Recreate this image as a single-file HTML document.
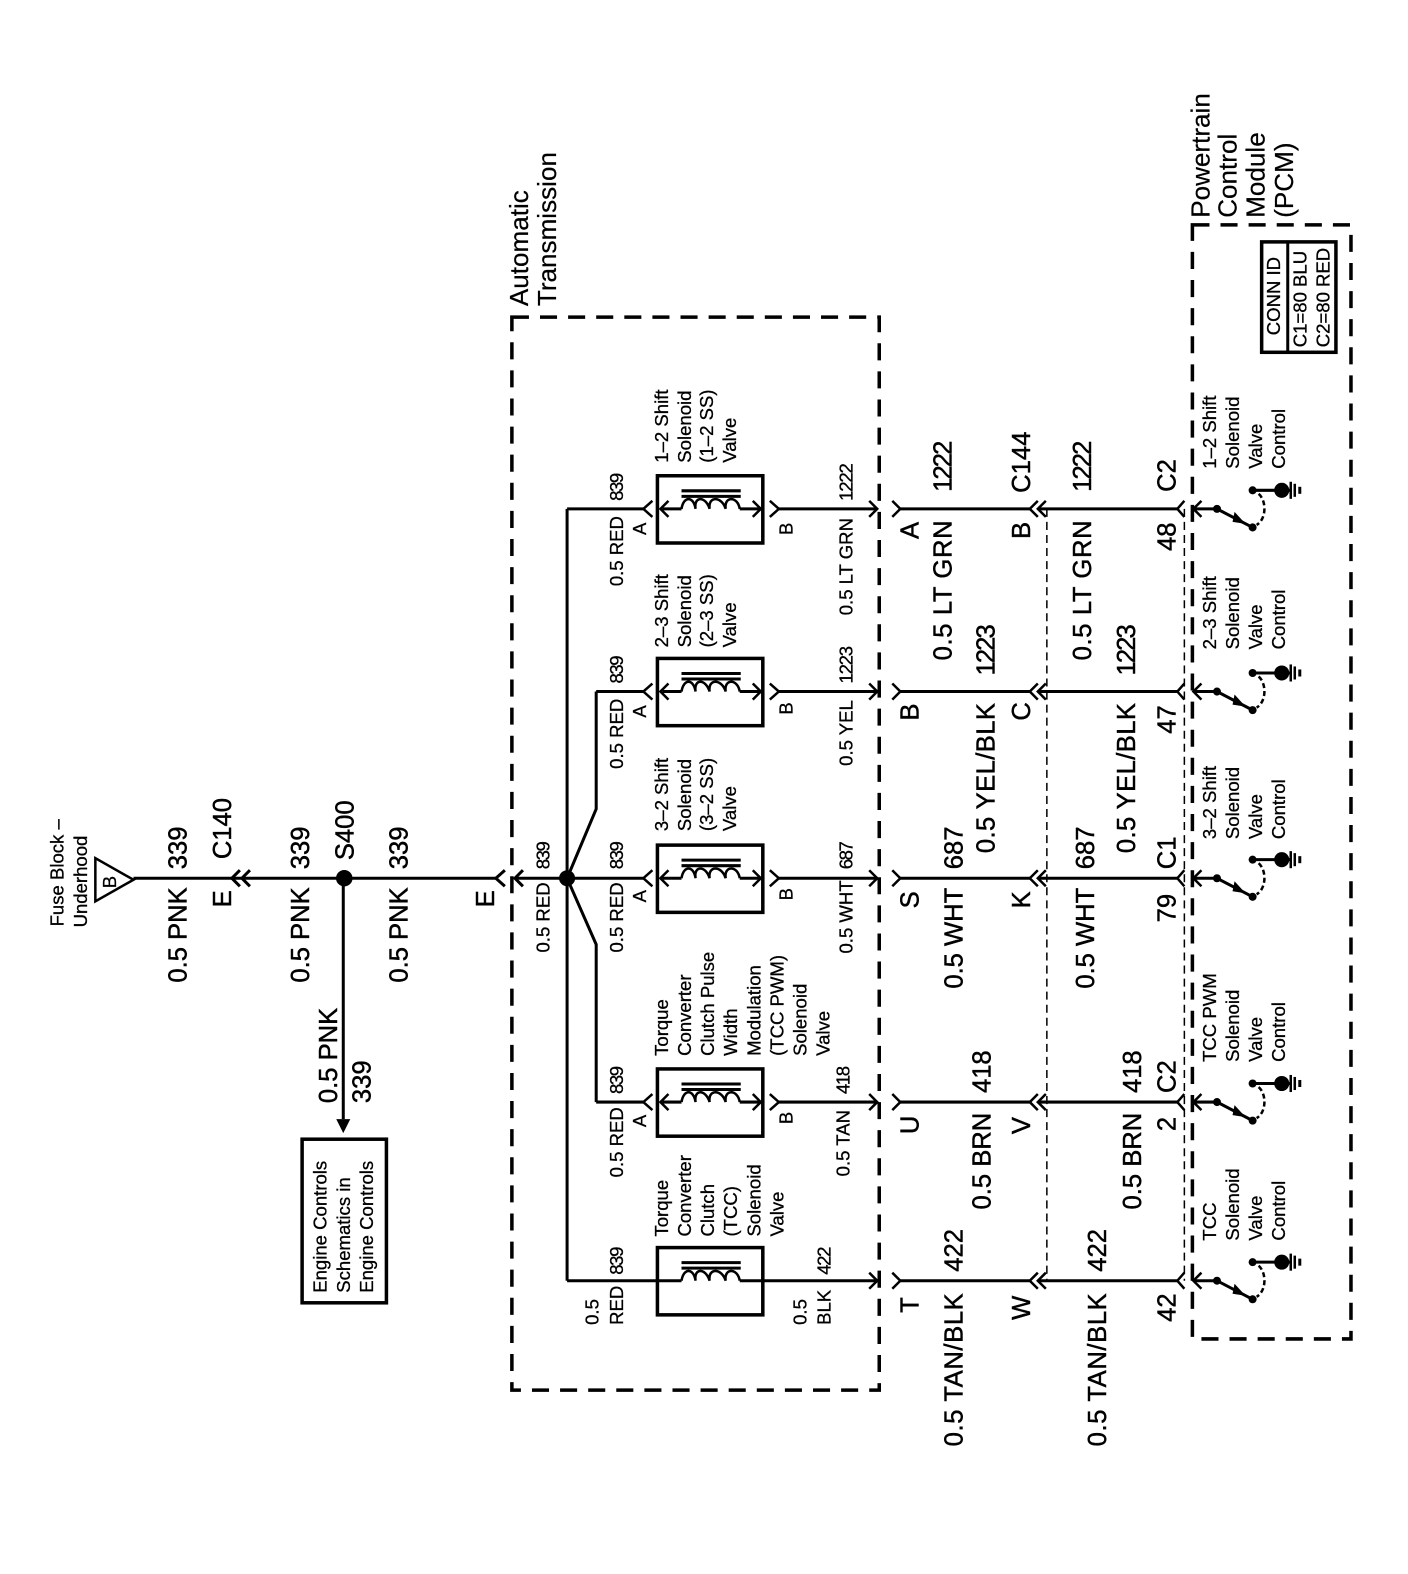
<!DOCTYPE html>
<html><head><meta charset="utf-8"><style>
html,body{margin:0;padding:0;background:#fff}
svg{display:block}
text{font-family:"Liberation Sans",sans-serif;fill:#000;stroke:#000}
.b text{font-size:25.5px;stroke-width:.45}
.s text{font-size:18.5px;stroke-width:.3}
.h text{font-size:26px;stroke-width:.2}
.w{fill:none;stroke:#000;stroke-width:3}
</style></head><body>
<svg xmlns="http://www.w3.org/2000/svg" width="1408" height="1574" viewBox="0 0 1408 1574">
<defs>
<g id="sol" fill="none" stroke="#000">
<rect x="0" y="-33" width="105" height="67" stroke-width="3.5" fill="none"/>
<path d="M5 0H24M82 0H105" stroke-width="3"/>
<path d="M24 0C26 -13 36 -13 38 0C36 -13 48 -13 52 0C50 -13 64 -13 68 0C66 -13 80 -13 82 0" stroke-width="2.5"/>
<path d="M24 -18H83M24 -12.5H83" stroke-width="3"/>
</g>
<g id="sw">
<path d="M1189 0H1212.5L1248 18.5" fill="none" stroke="#000" stroke-width="3"/>
<path d="M1197 -8L1189 0L1197 8M1173 0M1180 -8L1173 0L1180 8" fill="none" stroke="#000" stroke-width="2.5"/>
<path d="M1230 3L1241 15L1228 13Z" fill="#000"/>
<circle cx="1212.5" cy="0" r="4"/><circle cx="1248" cy="18.5" r="4"/><circle cx="1248" cy="-18.5" r="4"/>
<circle cx="1277" cy="-18.5" r="7.5"/>
<path d="M1248 -18.5H1286" stroke="#000" stroke-width="3"/>
<path d="M1286 -27V-10" stroke="#000" stroke-width="2.5"/>
<path d="M1290 -25V-12" stroke="#000" stroke-width="2.5"/>
<path d="M1295 -22V-15" stroke="#000" stroke-width="3"/>
<path d="M1254 -15C1262 -8 1262 10 1252 16" fill="none" stroke="#000" stroke-width="2.5" stroke-dasharray="5 3"/>
</g>
</defs>
<g transform="scale(1.0037)">
<!-- dashed boxes -->
<rect x="510" y="316" width="366" height="1069" fill="none" stroke="#000" stroke-width="3.5" stroke-dasharray="17 11"/>
<rect x="1188" y="224" width="158" height="1110" fill="none" stroke="#000" stroke-width="3.5" stroke-dasharray="17 11"/>
<!-- thin dashed -->
<path d="M1043 507V1276M1180 507V1276" fill="none" stroke="#000" stroke-width="1.5" stroke-dasharray="8 5"/>
<!-- left feed -->
<path d="M95 855V898L133 876.5Z" fill="none" stroke="#000" stroke-width="2.5"/>
<path d="M133 875H494M513 875H565" class="w"/>
<path d="M239 867L231 875L239 883M249 867L241 875L249 883M503 867L494 875L503 883M521 867L513 875L521 883" class="w" stroke-width="2.5"/>
<circle cx="343" cy="875" r="8.2"/>
<path d="M342 875V1115" class="w"/>
<path d="M335 1115H349L342 1129Z" fill="#000"/>
<rect x="301" y="1135" width="84" height="163" fill="none" stroke="#000" stroke-width="3.5"/>
<!-- bus -->
<path d="M565 507V1276" class="w"/>
<circle cx="565" cy="875" r="8"/>
<path d="M565 875L594 806V689M565 875L594 941V1098" class="w"/>
<path d="M565 507H641M594 689H641M565 875H641M594 1098H641M565 1276H655" class="w"/>
<!-- solenoids -->
<g transform="translate(655,507)"><use href="#sol"/></g>
<g transform="translate(655,689)"><use href="#sol"/></g>
<g transform="translate(655,875)"><use href="#sol"/></g>
<g transform="translate(655,1098)"><use href="#sol"/></g>
<g fill="none" stroke="#000">
<rect x="655" y="1243" width="105" height="67" stroke-width="3.5"/>
<path d="M655 1276H679M737 1276H874" stroke-width="3"/>
<path d="M679 1276C681 1263 691 1263 693 1276C691 1263 703 1263 707 1276C705 1263 719 1263 723 1276C721 1263 735 1263 737 1276" stroke-width="2.5"/>
<path d="M679 1258H738M679 1263.5H738" stroke-width="3"/>
</g>
<!-- chevrons at solenoids and box wire -->
<path d="M650 499L641 507L650 515M666 499L658 507L666 515M750 499L758 507L750 515M767 499L776 507L767 515
M650 681L641 689L650 697M666 681L658 689L666 697M750 681L758 689L750 697M767 681L776 689L767 697
M650 867L641 875L650 883M666 867L658 875L666 883M750 867L758 875L750 883M767 867L776 875L767 883
M650 1090L641 1098L650 1106M666 1090L658 1098L666 1106M750 1090L758 1098L750 1106M767 1090L776 1098L767 1106" fill="none" stroke="#000" stroke-width="2.5"/>
<path d="M776 507H874M776 689H874M776 875H874M776 1098H874" class="w"/>
<!-- wires mid -->
<path d="M897 507H1026M897 689H1026M897 875H1026M897 1098H1026M897 1276H1026M1034 507H1173M1034 689H1173M1034 875H1173M1034 1098H1173M1034 1276H1173" class="w"/>
<!-- connector chevrons per row -->
<g fill="none" stroke="#000" stroke-width="2.5">
<path d="M866 499L874 507L866 515M889 499L897 507L889 515M1034 499L1026 507L1034 515M1042 499L1034 507L1042 515"/>
<path d="M866 681L874 689L866 697M889 681L897 689L889 697M1034 681L1026 689L1034 697M1042 681L1034 689L1042 697"/>
<path d="M866 867L874 875L866 883M889 867L897 875L889 883M1034 867L1026 875L1034 883M1042 867L1034 875L1042 883"/>
<path d="M866 1090L874 1098L866 1106M889 1090L897 1098L889 1106M1034 1090L1026 1098L1034 1106M1042 1090L1034 1098L1042 1106"/>
<path d="M866 1268L874 1276L866 1284M889 1268L897 1276L889 1284M1034 1268L1026 1276L1034 1284M1042 1268L1034 1276L1042 1284"/>
</g>
<!-- switches -->
<g transform="translate(0,507)"><use href="#sw"/></g>
<g transform="translate(0,689)"><use href="#sw"/></g>
<g transform="translate(0,875)"><use href="#sw"/></g>
<g transform="translate(0,1098)"><use href="#sw"/></g>
<g transform="translate(0,1276)"><use href="#sw"/></g>
<!-- conn id -->
<rect x="1257" y="241" width="74" height="110" fill="none" stroke="#000" stroke-width="3.5"/>
<path d="M1283 241V351" class="w"/>

<g class="h" transform="translate(-2,0)">
<text transform="translate(528,305) rotate(-90)">Automatic</text>
<text transform="translate(556,305) rotate(-90)">Transmission</text>
<text transform="translate(1207,217) rotate(-90)">Powertrain</text>
<text transform="translate(1234,217) rotate(-90)">Control</text>
<text transform="translate(1262,217) rotate(-90)">Module</text>
<text transform="translate(1290,217) rotate(-90)">(PCM)</text>
</g>
<g class="b" transform="translate(-2,0)">
<text transform="translate(188,979) rotate(-90)">0.5 PNK</text>
<text transform="translate(188,866) rotate(-90)">339</text>
<text transform="translate(232,904) rotate(-90)">E</text>
<text transform="translate(232,856) rotate(-90)">C140</text>
<text transform="translate(310,979) rotate(-90)">0.5 PNK</text>
<text transform="translate(310,866) rotate(-90)">339</text>
<text transform="translate(354,857) rotate(-90)">S400</text>
<text transform="translate(408,979) rotate(-90)">0.5 PNK</text>
<text transform="translate(408,866) rotate(-90)">339</text>
<text transform="translate(494,904) rotate(-90)">E</text>
<text transform="translate(338,1099) rotate(-90)">0.5 PNK</text>
<text transform="translate(371,1099) rotate(-90)">339</text>

<text transform="translate(917,537) rotate(-90)">A</text>
<text transform="translate(950,490) rotate(-90)" textLength="51">1222</text>
<text transform="translate(950,658) rotate(-90)" textLength="139.5">0.5 LT GRN</text>
<text transform="translate(1028,491) rotate(-90)">C144</text>
<text transform="translate(1028,537) rotate(-90)">B</text>
<text transform="translate(1089,490) rotate(-90)" textLength="51">1222</text>
<text transform="translate(1089,658) rotate(-90)" textLength="139.5">0.5 LT GRN</text>
<text transform="translate(1173,490) rotate(-90)">C2</text>
<text transform="translate(1173,549) rotate(-90)">48</text>

<text transform="translate(917,718) rotate(-90)">B</text>
<text transform="translate(993,673) rotate(-90)" textLength="51">1223</text>
<text transform="translate(993,850) rotate(-90)" textLength="149.5">0.5 YEL/BLK</text>
<text transform="translate(1028,718) rotate(-90)">C</text>
<text transform="translate(1133,673) rotate(-90)" textLength="51">1223</text>
<text transform="translate(1133,850) rotate(-90)" textLength="149.5">0.5 YEL/BLK</text>
<text transform="translate(1173,731) rotate(-90)">47</text>

<text transform="translate(917,905) rotate(-90)">S</text>
<text transform="translate(961,866) rotate(-90)">687</text>
<text transform="translate(961,985) rotate(-90)">0.5 WHT</text>
<text transform="translate(1028,905) rotate(-90)">K</text>
<text transform="translate(1092,866) rotate(-90)">687</text>
<text transform="translate(1092,985) rotate(-90)">0.5 WHT</text>
<text transform="translate(1173,866) rotate(-90)">C1</text>
<text transform="translate(1173,919) rotate(-90)">79</text>

<text transform="translate(917,1130) rotate(-90)">U</text>
<text transform="translate(989,1089) rotate(-90)">418</text>
<text transform="translate(989,1205) rotate(-90)">0.5 BRN</text>
<text transform="translate(1028,1130) rotate(-90)">V</text>
<text transform="translate(1139,1089) rotate(-90)">418</text>
<text transform="translate(1139,1205) rotate(-90)">0.5 BRN</text>
<text transform="translate(1173,1089) rotate(-90)">C2</text>
<text transform="translate(1173,1127) rotate(-90)">2</text>

<text transform="translate(917,1308) rotate(-90)">T</text>
<text transform="translate(961,1267) rotate(-90)">422</text>
<text transform="translate(961,1441) rotate(-90)" textLength="152.5">0.5 TAN/BLK</text>
<text transform="translate(1028,1315) rotate(-90)">W</text>
<text transform="translate(1104,1267) rotate(-90)">422</text>
<text transform="translate(1104,1441) rotate(-90)" textLength="152.5">0.5 TAN/BLK</text>
<text transform="translate(1173,1317) rotate(-90)">42</text>
</g>
<g class="s" transform="translate(-1.5,0)">
<text transform="translate(65,923) rotate(-90)">Fuse Block –</text>
<text transform="translate(88,924) rotate(-90)">Underhood</text>
<text transform="translate(117,885) rotate(-90)">B</text>
<text transform="translate(327,1288) rotate(-90)">Engine Controls</text>
<text transform="translate(350,1288) rotate(-90)">Schematics in</text>
<text transform="translate(373,1288) rotate(-90)">Engine Controls</text>
<text transform="translate(1277,334) rotate(-90)">CONN ID</text>
<text transform="translate(1303,346) rotate(-90)">C1=80 BLU</text>
<text transform="translate(1326,346) rotate(-90)">C2=80 RED</text>

<text transform="translate(622,499) rotate(-90)" textLength="28">839</text>
<text transform="translate(622,584) rotate(-90)">0.5 RED</text>
<text transform="translate(645,533) rotate(-90)">A</text>
<text transform="translate(791,533) rotate(-90)">B</text>
<text transform="translate(851,499) rotate(-90)" textLength="37.5">1222</text>
<text transform="translate(851,613) rotate(-90)">0.5 LT GRN</text>

<text transform="translate(622,681) rotate(-90)" textLength="28">839</text>
<text transform="translate(622,766) rotate(-90)">0.5 RED</text>
<text transform="translate(645,715) rotate(-90)">A</text>
<text transform="translate(791,712) rotate(-90)">B</text>
<text transform="translate(851,681) rotate(-90)" textLength="37.5">1223</text>
<text transform="translate(851,763) rotate(-90)">0.5 YEL</text>

<text transform="translate(622,866) rotate(-90)" textLength="28">839</text>
<text transform="translate(622,949) rotate(-90)">0.5 RED</text>
<text transform="translate(645,899) rotate(-90)">A</text>
<text transform="translate(791,897) rotate(-90)">B</text>
<text transform="translate(851,866) rotate(-90)" textLength="28">687</text>
<text transform="translate(851,950) rotate(-90)">0.5 WHT</text>
<text transform="translate(549,866) rotate(-90)" textLength="28">839</text>
<text transform="translate(549,949) rotate(-90)">0.5 RED</text>

<text transform="translate(622,1090) rotate(-90)" textLength="28">839</text>
<text transform="translate(622,1173) rotate(-90)">0.5 RED</text>
<text transform="translate(645,1123) rotate(-90)">A</text>
<text transform="translate(791,1120) rotate(-90)">B</text>
<text transform="translate(848,1090) rotate(-90)" textLength="28">418</text>
<text transform="translate(848,1172) rotate(-90)">0.5 TAN</text>

<text transform="translate(622,1270) rotate(-90)" textLength="28">839</text>
<text transform="translate(598,1320) rotate(-90)">0.5</text>
<text transform="translate(622,1320) rotate(-90)">RED</text>
<text transform="translate(829,1270) rotate(-90)" textLength="28">422</text>
<text transform="translate(805,1320) rotate(-90)">0.5</text>
<text transform="translate(829,1320) rotate(-90)">BLK</text>

<text transform="translate(667,461) rotate(-90)">1–2 Shift</text>
<text transform="translate(690,461) rotate(-90)">Solenoid</text>
<text transform="translate(712,461) rotate(-90)">(1–2 SS)</text>
<text transform="translate(735,461) rotate(-90)">Valve</text>

<text transform="translate(667,645) rotate(-90)">2–3 Shift</text>
<text transform="translate(690,645) rotate(-90)">Solenoid</text>
<text transform="translate(712,645) rotate(-90)">(2–3 SS)</text>
<text transform="translate(735,645) rotate(-90)">Valve</text>

<text transform="translate(667,828) rotate(-90)">3–2 Shift</text>
<text transform="translate(690,828) rotate(-90)">Solenoid</text>
<text transform="translate(712,828) rotate(-90)">(3–2 SS)</text>
<text transform="translate(735,828) rotate(-90)">Valve</text>

<text transform="translate(667,1052) rotate(-90)">Torque</text>
<text transform="translate(690,1052) rotate(-90)">Converter</text>
<text transform="translate(713,1052) rotate(-90)">Clutch Pulse</text>
<text transform="translate(736,1052) rotate(-90)">Width</text>
<text transform="translate(759,1052) rotate(-90)">Modulation</text>
<text transform="translate(782,1052) rotate(-90)">(TCC PWM)</text>
<text transform="translate(805,1052) rotate(-90)">Solenoid</text>
<text transform="translate(828,1052) rotate(-90)">Valve</text>

<text transform="translate(667,1232) rotate(-90)">Torque</text>
<text transform="translate(690,1232) rotate(-90)">Converter</text>
<text transform="translate(713,1232) rotate(-90)">Clutch</text>
<text transform="translate(736,1232) rotate(-90)">(TCC)</text>
<text transform="translate(759,1232) rotate(-90)">Solenoid</text>
<text transform="translate(782,1232) rotate(-90)">Valve</text>

<text transform="translate(1213,467) rotate(-90)">1–2 Shift</text>
<text transform="translate(1236,467) rotate(-90)">Solenoid</text>
<text transform="translate(1259,467) rotate(-90)">Valve</text>
<text transform="translate(1282,467) rotate(-90)">Control</text>

<text transform="translate(1213,647) rotate(-90)">2–3 Shift</text>
<text transform="translate(1236,647) rotate(-90)">Solenoid</text>
<text transform="translate(1259,647) rotate(-90)">Valve</text>
<text transform="translate(1282,647) rotate(-90)">Control</text>

<text transform="translate(1213,836) rotate(-90)">3–2 Shift</text>
<text transform="translate(1236,836) rotate(-90)">Solenoid</text>
<text transform="translate(1259,836) rotate(-90)">Valve</text>
<text transform="translate(1282,836) rotate(-90)">Control</text>

<text transform="translate(1213,1058) rotate(-90)">TCC PWM</text>
<text transform="translate(1236,1058) rotate(-90)">Solenoid</text>
<text transform="translate(1259,1058) rotate(-90)">Valve</text>
<text transform="translate(1282,1058) rotate(-90)">Control</text>

<text transform="translate(1213,1236) rotate(-90)">TCC</text>
<text transform="translate(1236,1236) rotate(-90)">Solenoid</text>
<text transform="translate(1259,1236) rotate(-90)">Valve</text>
<text transform="translate(1282,1236) rotate(-90)">Control</text>
</g>
</g>
</svg>
</body></html>
